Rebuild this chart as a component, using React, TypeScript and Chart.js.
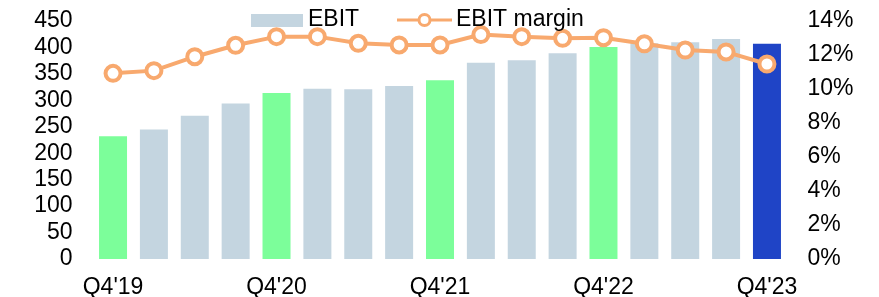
import React, { useEffect, useRef } from "react";
import { Chart, registerables } from "chart.js";

Chart.register(...registerables);

const categories = [
  "Q4'19", "Q1'20", "Q2'20", "Q3'20",
  "Q4'20", "Q1'21", "Q2'21", "Q3'21",
  "Q4'21", "Q1'22", "Q2'22", "Q3'22",
  "Q4'22", "Q1'23", "Q2'23", "Q3'23",
  "Q4'23",
];

const ebit = [232, 245, 271, 294, 314, 322, 321, 327, 338, 371, 376, 389, 401, 408, 410, 416, 407];

const ebitMargin = [10.92, 11.08, 11.9, 12.57, 13.08, 13.08, 12.69, 12.59, 12.59, 13.2, 13.08, 12.98, 13.02, 12.66, 12.29, 12.18, 11.47];

const leftTicks = { min: 0, max: 450, step: 50 };
const rightTicks = { min: 0, max: 14, step: 2 };

const GRAY = "#C4D5E0";
const GREEN = "#7CFE9A";
const BLUE = "#1F44C6";
const ORANGE = "#F8A96E";
const FONT = "'Liberation Sans', Arial, sans-serif";

const barColors = categories.map((c, i) =>
  i === categories.length - 1 ? BLUE : c.startsWith("Q4") ? GREEN : GRAY
);

const legendPlugin = {
  id: "customLegend",
  afterDraw(chart: any) {
    const ctx = chart.ctx;
    ctx.save();
    ctx.font = `23px ${FONT}`;
    ctx.textBaseline = "middle";
    ctx.fillStyle = GRAY;
    ctx.fillRect(251, 14, 52, 13);
    ctx.fillStyle = "#000";
    ctx.fillText(chart.data.datasets[0].label, 308, 19.5);
    ctx.strokeStyle = ORANGE;
    ctx.lineWidth = 3;
    ctx.beginPath();
    ctx.moveTo(397, 20);
    ctx.lineTo(452, 20);
    ctx.stroke();
    ctx.beginPath();
    ctx.arc(424.5, 20, 5.5, 0, Math.PI * 2);
    ctx.fillStyle = "#fff";
    ctx.fill();
    ctx.stroke();
    ctx.fillStyle = "#000";
    ctx.fillText(chart.data.datasets[1].label, 456, 19.5);
    ctx.restore();
  },
};

export default function App() {
  const ref = useRef<HTMLCanvasElement | null>(null);
  useEffect(() => {
    if (!ref.current) return;
    const chart = new Chart(ref.current, {
      type: "bar",
      data: {
        labels: categories,
        datasets: [
          {
            type: "bar",
            label: "EBIT",
            data: ebit,
            backgroundColor: barColors,
            yAxisID: "y",
            order: 2,
            categoryPercentage: 1,
            barPercentage: 0.685,
          },
          {
            type: "line",
            label: "EBIT margin",
            data: ebitMargin,
            yAxisID: "y1",
            order: 1,
            borderColor: ORANGE,
            borderWidth: 4,
            pointRadius: 7.5,
            pointBorderWidth: 4,
            pointBackgroundColor: "#fff",
            pointBorderColor: ORANGE,
            tension: 0,
          },
        ],
      },
      options: {
        responsive: false,
        animation: false,
        layout: { padding: { left: 33.6, right: 25, top: 21, bottom: 0 } },
        plugins: {
          legend: { display: false },
          tooltip: { enabled: false },
        },
        scales: {
          x: {
            grid: { display: false, drawTicks: false },
            border: { display: false },
            afterFit: (s: any) => {
              s.height = 38;
              s.paddingLeft = 0;
              s.paddingRight = 0;
            },
            ticks: {
              autoSkip: false,
              maxRotation: 0,
              padding: 17.5,
              color: "#000",
              font: { family: FONT, size: 23, lineHeight: 1 },
              callback: (_v: any, i: number) => (i % 4 === 0 ? categories[i] : ""),
            },
          },
          y: {
            position: "left",
            min: leftTicks.min,
            max: leftTicks.max,
            grid: { display: false, drawTicks: false },
            border: { display: false },
            afterFit: (s: any) => {
              s.width = 59;
              s.paddingTop = 0;
              s.paddingBottom = 0;
            },
            ticks: {
              autoSkip: false,
              stepSize: leftTicks.step,
              padding: 20,
              color: "#000",
              font: { family: FONT, size: 23 },
            },
          },
          y1: {
            position: "right",
            min: rightTicks.min,
            max: rightTicks.max,
            grid: { display: false, drawTicks: false },
            border: { display: false },
            afterFit: (s: any) => {
              s.width = 66.6;
              s.paddingTop = 0;
              s.paddingBottom = 0;
            },
            ticks: {
              autoSkip: false,
              stepSize: rightTicks.step,
              padding: 20,
              color: "#000",
              font: { family: FONT, size: 23 },
              callback: (v: any) => `${v}%`,
            },
          },
        },
      },
      plugins: [legendPlugin],
    });
    return () => chart.destroy();
  }, []);
  return (
    <div style={{ position: "fixed", left: 0, top: 0, width: 879, height: 297, overflow: "hidden", background: "#fff" }}>
      <canvas ref={ref} width={879} height={297} style={{ display: "block" }} />
    </div>
  );
}
